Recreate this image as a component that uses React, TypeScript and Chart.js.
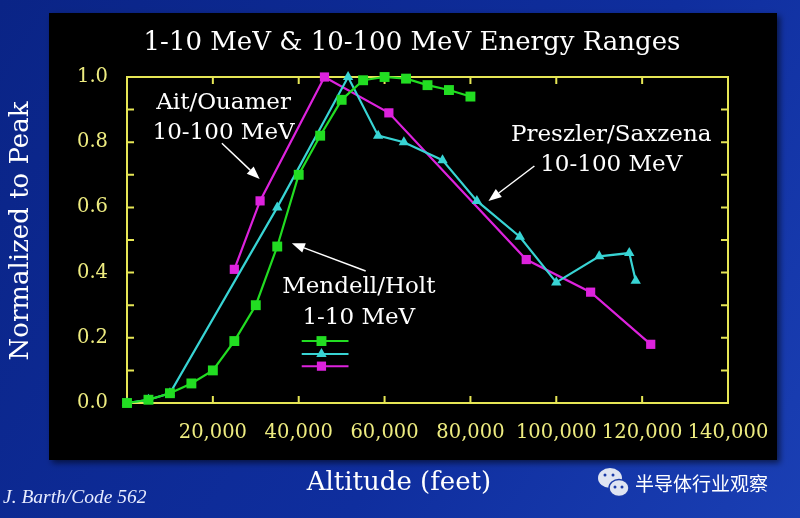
import React, { useEffect, useRef } from 'react';
import { Chart, registerables } from 'chart.js';

Chart.register(...registerables);

// ---------- data ----------
const mendellAlt = [0, 5000, 10000, 15000, 20000, 25000, 30000, 35000, 40000, 45000, 50000, 55000, 60000, 65000, 70000, 75000, 80000];
const mendellVal = [0, 0.01, 0.03, 0.06, 0.1, 0.19, 0.3, 0.48, 0.7, 0.82, 0.93, 0.99, 1.0, 0.995, 0.975, 0.96, 0.94];

const preszlerAlt = [0, 5000, 10000, 35000, 51500, 58500, 64500, 73500, 81500, 91500, 100000, 110000, 117000, 118500];
const preszlerVal = [0, 0.01, 0.03, 0.6, 1.0, 0.82, 0.8, 0.745, 0.62, 0.51, 0.37, 0.45, 0.46, 0.375];

const aitAlt = [25000, 31000, 46000, 61000, 93000, 108000, 122000];
const aitVal = [0.41, 0.62, 1.0, 0.89, 0.44, 0.34, 0.18];

const xTickStep = 20000;
const yTickStep = 0.1;

const titleText = '1-10 MeV & 10-100 MeV Energy Ranges';
const xTitle = 'Altitude (feet)';
const yTitle = 'Normalized to Peak';
const creditText = 'J. Barth/Code 562';
const watermarkText = '半导体行业观察';

// annotation labels (anchored in data coordinates)
const annotations = [
  { lines: ['Ait/Ouamer', '10-100 MeV'], x: 22500, y: [0.92, 0.828] },
  { lines: ['Mendell/Holt', '1-10 MeV'], x: 54000, y: [0.356, 0.262] },
  { lines: ['Preszler/Saxzena', '10-100 MeV'], x: 112800, y: [0.822, 0.73] },
];
const arrows = [
  { from: [22100, 0.797], to: [30900, 0.687] },
  { from: [55600, 0.405], to: [38400, 0.49] },
  { from: [94900, 0.727], to: [84200, 0.62] },
];
const legendRows = [0.19, 0.15, 0.113];
const legendX = [40700, 45300, 51600];

// ---------- styles ----------
const GREEN = '#22dd22';
const CYAN = '#38d4d4';
const MAGENTA = '#dd22dd';
const FRAME = '#e6e655';
const TICKTXT = '#eeec80';
const SERIF = "'DejaVu Serif', serif";

const mk = (xs: number[], ys: number[]) => xs.map((x, i) => ({ x, y: ys[i] }));

function drawMarker(ctx: CanvasRenderingContext2D, style: string, x: number, y: number, r: number, color: string) {
  ctx.fillStyle = color;
  ctx.beginPath();
  if (style === 'triangle') {
    ctx.moveTo(x, y - r);
    ctx.lineTo(x + r * 0.866, y + r * 0.5);
    ctx.lineTo(x - r * 0.866, y + r * 0.5);
    ctx.closePath();
  } else {
    const s = r * Math.SQRT1_2;
    ctx.rect(x - s, y - s, 2 * s, 2 * s);
  }
  ctx.fill();
}

const decorPlugin = {
  id: 'decor',
  beforeDraw(chart: any) {
    const { ctx, width, height } = chart;
    ctx.save();
    const g = ctx.createLinearGradient(0, 0, width, height);
    g.addColorStop(0, '#0a2486');
    g.addColorStop(0.6, '#0f2e9e');
    g.addColorStop(1, '#1a3fb4');
    ctx.fillStyle = g;
    ctx.fillRect(0, 0, width, height);
    ctx.shadowColor = 'rgba(0,0,0,0.55)';
    ctx.shadowBlur = 6;
    ctx.shadowOffsetX = 3;
    ctx.shadowOffsetY = 3;
    ctx.fillStyle = '#000';
    ctx.fillRect(49, 13, 728, 447);
    ctx.restore();
  },
  beforeDatasetsDraw(chart: any) {
    const { ctx, chartArea: a, scales } = chart;
    const tl = 7;
    ctx.save();
    ctx.strokeStyle = FRAME;
    ctx.lineWidth = 2;
    ctx.strokeRect(a.left, a.top, a.right - a.left, a.bottom - a.top);
    ctx.beginPath();
    scales.x.ticks.forEach((t: any) => {
      const px = scales.x.getPixelForValue(t.value);
      ctx.moveTo(px, a.bottom);
      ctx.lineTo(px, a.bottom - tl);
      ctx.moveTo(px, a.top);
      ctx.lineTo(px, a.top + tl);
    });
    scales.y.ticks.forEach((t: any) => {
      const py = scales.y.getPixelForValue(t.value);
      ctx.moveTo(a.left, py);
      ctx.lineTo(a.left + tl, py);
      ctx.moveTo(a.right, py);
      ctx.lineTo(a.right - tl, py);
    });
    ctx.stroke();
    ctx.restore();
  },
  afterDraw(chart: any) {
    const { ctx, scales } = chart;
    const X = (v: number) => scales.x.getPixelForValue(v);
    const Y = (v: number) => scales.y.getPixelForValue(v);
    ctx.save();
    // title
    ctx.fillStyle = '#ffffff';
    ctx.textAlign = 'center';
    ctx.textBaseline = 'middle';
    ctx.font = `26px ${SERIF}`;
    ctx.fillText(titleText, 412, 43);
    // annotations
    ctx.font = `23px ${SERIF}`;
    annotations.forEach((an) => {
      an.lines.forEach((ln, i) => ctx.fillText(ln, X(an.x), Y(an.y[i])));
    });
    // arrows
    ctx.strokeStyle = '#ffffff';
    ctx.lineWidth = 1.5;
    arrows.forEach((ar) => {
      const x1 = X(ar.from[0]), y1 = Y(ar.from[1]);
      const x2 = X(ar.to[0]), y2 = Y(ar.to[1]);
      const ang = Math.atan2(y2 - y1, x2 - x1);
      const hl = 13, hw = 5;
      const bx = x2 - hl * Math.cos(ang), by = y2 - hl * Math.sin(ang);
      ctx.beginPath();
      ctx.moveTo(x1, y1);
      ctx.lineTo(bx, by);
      ctx.stroke();
      ctx.beginPath();
      ctx.moveTo(x2, y2);
      ctx.lineTo(bx + hw * Math.sin(ang), by - hw * Math.cos(ang));
      ctx.lineTo(bx - hw * Math.sin(ang), by + hw * Math.cos(ang));
      ctx.closePath();
      ctx.fillStyle = '#ffffff';
      ctx.fill();
    });
    // legend samples
    const ds = chart.data.datasets;
    legendRows.forEach((ry, i) => {
      const d: any = ds[i];
      const py = Y(ry);
      ctx.strokeStyle = d.borderColor;
      ctx.lineWidth = 2;
      ctx.beginPath();
      ctx.moveTo(X(legendX[0]), py);
      ctx.lineTo(X(legendX[2]), py);
      ctx.stroke();
      drawMarker(ctx, d.pointStyle, X(legendX[1]), py, d.pointRadius, d.borderColor);
    });
    // axis titles
    ctx.fillStyle = '#ffffff';
    ctx.font = `26px ${SERIF}`;
    ctx.textAlign = 'center';
    ctx.textBaseline = 'middle';
    ctx.fillText(xTitle, 399, 483);
    ctx.save();
    ctx.translate(21, 231);
    ctx.rotate(-Math.PI / 2);
    ctx.fillText(yTitle, 0, 0);
    ctx.restore();
    // credit
    ctx.textAlign = 'left';
    ctx.font = `italic 19.5px 'Liberation Serif', serif`;
    ctx.fillStyle = '#e8ecff';
    ctx.fillText(creditText, 3, 498);
    // watermark icon
    ctx.fillStyle = '#dfe4f2';
    ctx.beginPath();
    ctx.ellipse(610, 478, 12, 10, 0, 0, Math.PI * 2);
    ctx.fill();
    ctx.strokeStyle = '#1a3aa8';
    ctx.lineWidth = 1.5;
    ctx.beginPath();
    ctx.ellipse(619, 488, 10, 8.5, 0, 0, Math.PI * 2);
    ctx.fill();
    ctx.stroke();
    ctx.fillStyle = '#1a3aa8';
    [[605, 475], [613, 475], [615, 487], [622, 487]].forEach(([ex, ey]) => {
      ctx.beginPath();
      ctx.arc(ex, ey, 1.5, 0, Math.PI * 2);
      ctx.fill();
    });
    ctx.fillStyle = '#ffffff';
    ctx.font = `19px 'Noto Sans CJK SC', sans-serif`;
    ctx.textAlign = 'left';
    ctx.fillText(watermarkText, 635, 484);
    ctx.restore();
  },
};

export default function App() {
  const ref = useRef<HTMLCanvasElement>(null);
  useEffect(() => {
    document.body.style.margin = '0';
    Chart.defaults.font.family = SERIF;
    const chart = new Chart(ref.current as HTMLCanvasElement, {
      type: 'scatter',
      data: {
        datasets: [
          {
            label: 'Mendell/Holt 1-10 MeV',
            data: mk(mendellAlt, mendellVal),
            borderColor: GREEN,
            backgroundColor: GREEN,
            pointStyle: 'rect',
            pointRadius: 7,
            pointBorderWidth: 0,
            borderWidth: 2.2,
            showLine: true,
            clip: false,
          } as any,
          {
            label: 'Preszler/Saxzena 10-100 MeV',
            data: mk(preszlerAlt, preszlerVal),
            borderColor: CYAN,
            backgroundColor: CYAN,
            pointStyle: 'triangle',
            pointRadius: 6,
            pointBorderWidth: 0,
            borderWidth: 2.2,
            showLine: true,
            clip: false,
          } as any,
          {
            label: 'Ait/Ouamer 10-100 MeV',
            data: mk(aitAlt, aitVal),
            borderColor: MAGENTA,
            backgroundColor: MAGENTA,
            pointStyle: 'rect',
            pointRadius: 6.5,
            pointBorderWidth: 0,
            borderWidth: 2.2,
            showLine: true,
            clip: false,
          } as any,
        ],
      },
      options: {
        animation: false,
        responsive: true,
        maintainAspectRatio: false,
        layout: { padding: { left: 0, right: 72, top: 77, bottom: 0 } },
        plugins: {
          legend: { display: false },
          tooltip: { enabled: false },
          title: { display: false },
        },
        scales: {
          x: {
            type: 'linear',
            min: 0,
            max: 140000,
            grid: { display: false, drawTicks: false },
            border: { display: false },
            ticks: {
              stepSize: xTickStep,
              autoSkip: false,
              maxRotation: 0,
              padding: 18,
              color: TICKTXT,
              font: { family: SERIF, size: 19.5 },
              callback: (v: any) => (v === 0 ? '' : Number(v).toLocaleString('en-US')),
            },
            afterFit: (s: any) => {
              s.height = 115;
            },
          },
          y: {
            type: 'linear',
            min: 0,
            max: 1,
            grid: { display: false, drawTicks: false },
            border: { display: false },
            ticks: {
              stepSize: yTickStep,
              autoSkip: false,
              padding: 19,
              color: TICKTXT,
              font: { family: SERIF, size: 19.5 },
              callback: (v: any) => (Math.round(Number(v) * 10) % 2 === 0 ? Number(v).toFixed(1) : ''),
            },
            afterFit: (s: any) => {
              s.width = 127;
            },
          },
        },
      },
      plugins: [decorPlugin],
    });
    return () => chart.destroy();
  }, []);
  return (
    <div style={{ width: 800, height: 518, position: 'relative' }}>
      <canvas ref={ref} />
    </div>
  );
}
